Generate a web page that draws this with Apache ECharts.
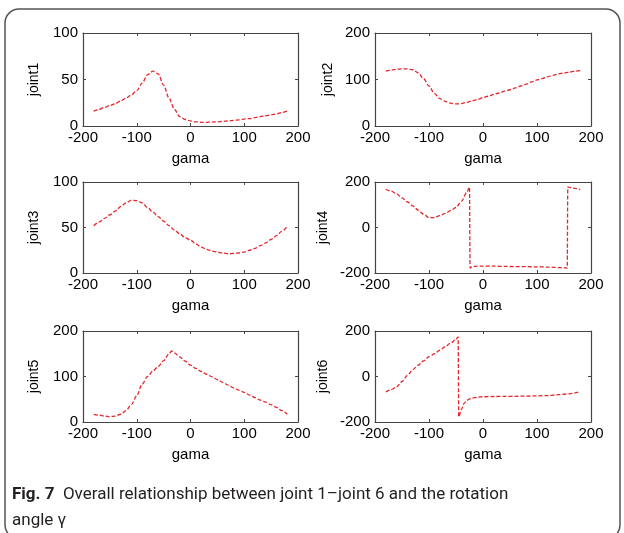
<!DOCTYPE html>
<html>
<head>
<meta charset="utf-8">
<script src="https://cdn.jsdelivr.net/npm/echarts@6/dist/echarts.min.js"></script>
<style>
  html, body { margin: 0; padding: 0; background: #fff; }
  #chart { width: 624px; height: 533px; }
</style>
</head>
<body>
<div id="chart"></div>
<script>
// gama (deg), step 10
var gama = [-180, -170, -160, -150, -140, -130, -120, -110, -100, -90, -80, -70, -60, -50, -40, -30, -20, -10,
  0, 10, 20, 30, 40, 50, 60, 70, 80, 90, 100, 110, 120, 130, 140, 150, 160, 170, 180];

var joint1 = [16, 18, 20, 22, 24, 27, 30, 33.5, 38, 46, 55, 59, 56, 44, 30, 18, 10, 7,
  5.5, 4.5, 4, 4, 4.2, 4.5, 5, 5.5, 6, 6.5, 7.5, 8, 9, 10, 11, 12, 13, 14.5, 16];

var joint2 = [118, 120, 122, 123, 123, 121, 114, 102, 86, 70, 59, 53, 49, 47.5, 48, 51, 54, 57,
  61, 64, 68, 71, 75, 78, 82, 86, 90, 95, 99, 102, 106, 109, 112, 114, 116, 118, 119];

var joint3 = [52, 56, 60, 64, 68, 73, 77, 80, 79.5, 77, 72, 67, 62, 57, 52, 47, 43, 39,
  36, 32, 28.5, 26, 24, 23, 22, 21, 21.5, 22, 23, 25, 27, 30, 33, 37, 41, 46, 51];

// joint4 wraps at +-180, so it keeps its own gama samples
var gama4 = [-180, -170, -160, -150, -140, -130, -120, -110, -100, -90, -80, -70, -60, -50, -40, -30, -25,
  -24, -20, -10, 0, 20, 40, 60, 80, 100, 120, 140, 150, 156, 157, 160, 170, 180];
var joint4 = [168, 160, 148, 130, 112, 95, 76, 58, 43, 43, 52, 62, 74, 88, 115, 155, 178,
  -178, -172, -170, -170, -170, -171, -172, -172, -173, -174, -176, -177, -178, 178, 176, 172, 167];

var gama5 = [-180, -170, -160, -150, -140, -130, -120, -110, -100, -90, -80, -70, -60, -50, -40, -35, -30, -20, -10,
  0, 10, 20, 30, 40, 50, 60, 70, 80, 90, 100, 110, 120, 130, 140, 150, 160, 170, 180];
var joint5 = [17, 15, 13, 12, 13, 17, 25, 38, 58, 83, 100, 112, 122, 135, 150, 156, 152, 143, 134,
  125, 118, 111, 105, 99, 93, 87, 81, 75, 70, 65, 59, 53.5, 48, 43.5, 38, 32, 25, 17];

var gama6 = [-180, -170, -160, -150, -140, -130, -120, -110, -100, -90, -80, -70, -60, -50, -46,
  -45, -40, -35, -30, -20, -10, 0, 20, 40, 60, 80, 100, 120, 140, 160, 170, 180];
var joint6 = [-68, -58, -46, -22, 5, 30, 50, 69, 87, 100, 116, 131, 147, 163, 174,
  -178, -145, -118, -104, -94, -91, -89, -88, -87, -87, -86, -85, -84, -80, -76, -72, -66];

var xTicks = [-200, 200, 100];
var yNames = ['joint1', 'joint2', 'joint3', 'joint4', 'joint5', 'joint6'];
var yRanges = [[0, 100, 50], [0, 200, 100], [0, 100, 50], [-200, 200, 200], [0, 200, 100], [-200, 200, 200]];
var seriesX = [gama, gama, gama, gama4, gama5, gama6];
var seriesY = [joint1, joint2, joint3, joint4, joint5, joint6];

var boxes = [
  { left: 83, top: 33, width: 215, height: 93, gap: 42 },
  { left: 375, top: 33, width: 216, height: 93, gap: 40 },
  { left: 83, top: 182, width: 215, height: 91, gap: 42 },
  { left: 375, top: 182, width: 216, height: 91, gap: 45 },
  { left: 83, top: 331, width: 215, height: 91, gap: 42 },
  { left: 375, top: 331, width: 216, height: 91, gap: 45 }
];

var axisColor = '#444';
var labelFont = { fontFamily: 'Liberation Sans', fontSize: 15, color: '#000' };

var grid = [], xAxis = [], yAxis = [], series = [];
boxes.forEach(function (b, i) {
  grid.push({ left: b.left, top: b.top, width: b.width, height: b.height, show: false });
  var tick = { show: true, inside: true, length: 3, lineStyle: { color: axisColor } };
  var line = { show: true, onZero: false, lineStyle: { color: axisColor, width: 1.2 } };
  // bottom x
  xAxis.push({
    gridIndex: i, type: 'value', min: xTicks[0], max: xTicks[1], interval: xTicks[2],
    position: 'bottom', axisLine: line, axisTick: tick, splitLine: { show: false },
    axisLabel: Object.assign({ margin: 4 }, labelFont),
    name: 'gama', nameLocation: 'middle', nameGap: 25,
    nameTextStyle: labelFont
  });
  // top x (box edge)
  xAxis.push({
    gridIndex: i, type: 'value', min: xTicks[0], max: xTicks[1], interval: xTicks[2],
    position: 'top', axisLine: line, axisTick: tick, splitLine: { show: false },
    axisLabel: { show: false }
  });
  var r = yRanges[i];
  yAxis.push({
    gridIndex: i, type: 'value', min: r[0], max: r[1], interval: r[2],
    position: 'left', axisLine: line, axisTick: tick, splitLine: { show: false },
    axisLabel: Object.assign({ margin: 5 }, labelFont),
    name: yNames[i], nameLocation: 'middle', nameGap: b.gap, nameRotate: 90,
    nameTextStyle: { fontFamily: 'Liberation Sans', fontSize: 14, color: '#000' }
  });
  yAxis.push({
    gridIndex: i, type: 'value', min: r[0], max: r[1], interval: r[2],
    position: 'right', axisLine: line, axisTick: tick, splitLine: { show: false },
    axisLabel: { show: false }
  });
  var xs = seriesX[i], ys = seriesY[i];
  series.push({
    type: 'line',
    xAxisIndex: i * 2,
    yAxisIndex: i * 2,
    data: xs.map(function (x, k) { return [x, ys[k]]; }),
    showSymbol: false,
    smooth: 0.3,
    smoothMonotone: 'x',
    lineStyle: { color: '#e5262b', width: 1.3, type: [4, 2] },
    silent: true
  });
});

var chart = echarts.init(document.getElementById('chart'));
chart.setOption({
  backgroundColor: '#fff',
  animation: false,
  grid: grid,
  xAxis: xAxis,
  yAxis: yAxis,
  series: series,
  graphic: [
    {
      type: 'rect',
      shape: { x: 5, y: 9, width: 615, height: 530, r: 14 },
      style: { fill: 'none', stroke: '#555', lineWidth: 1.5 }
    },
    {
      type: 'text',
      x: 12, y: 495,
      style: {
        text: '{b|Fig. 7}  Overall relationship between joint 1–joint 6 and the rotation',
        fontFamily: 'Roboto', fontSize: 17, fill: '#231f20', verticalAlign: 'middle',
        rich: { b: { fontFamily: 'Roboto', fontSize: 17, fontWeight: 'bold', fill: '#231f20' } }
      }
    },
    {
      type: 'text',
      x: 12, y: 521,
      style: {
        text: 'angle γ',
        fontFamily: 'Roboto', fontSize: 17, fill: '#231f20', verticalAlign: 'middle'
      }
    }
  ]
});
</script>
</body>
</html>
